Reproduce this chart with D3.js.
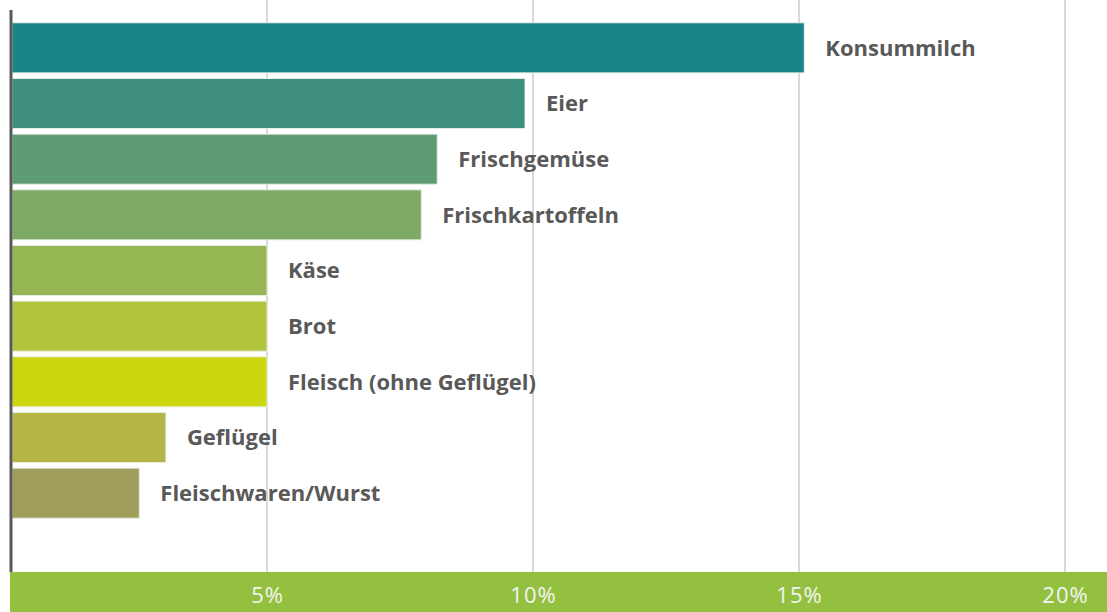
<!DOCTYPE html>
<meta charset="utf-8">
<script src="https://d3js.org/d3.v7.min.js"></script>
<style>
  body { margin: 0; background: #fff; }
  text { font-family: "Open Sans", Lato, sans-serif; }
</style>
<div id="viz"></div>
<script>
  // data
  const categories = ["Konsummilch", "Eier", "Frischgemüse", "Frischkartoffeln", "Käse", "Brot",
    "Fleisch (ohne Geflügel)", "Geflügel", "Fleischwaren/Wurst"];
  const values = [15.1, 9.85, 8.2, 7.9, 5.0, 5.0, 5.0, 3.1, 2.6];
  const barColors = ["#1b838a", "#3f8f7f", "#5f9b72", "#7fa966", "#96b553", "#b1c43b",
    "#cbd60f", "#b5b645", "#a19e5b"];
  const ticks = [5, 10, 15, 20];

  const width = 1107, height = 612;
  const axisLeft = 12, plotBottom = 572;

  const svg = d3.select("#viz").append("svg")
    .attr("width", width)
    .attr("height", height);

  const x = d3.scaleLinear().domain([0, 20]).range([1, 1065]);
  const y = d3.scaleBand()
    .domain(categories)
    .range([20, 521])
    .paddingInner(0.1)
    .paddingOuter(0.05);

  // gridlines
  svg.append("g")
    .selectAll("line")
    .data(ticks)
    .join("line")
      .attr("x1", d => x(d)).attr("x2", d => x(d))
      .attr("y1", 0).attr("y2", plotBottom)
      .attr("stroke", "#d9d9d9")
      .attr("stroke-width", 2);

  // bars
  svg.append("g")
    .selectAll("rect")
    .data(values)
    .join("rect")
      .attr("x", axisLeft)
      .attr("y", (d, i) => y(categories[i]))
      .attr("width", d => x(d) - axisLeft)
      .attr("height", y.bandwidth())
      .attr("fill", (d, i) => barColors[i])
      .attr("stroke", "#e8efe8")
      .attr("stroke-width", 1);

  // labels
  svg.append("g")
    .selectAll("text")
    .data(values)
    .join("text")
      .attr("x", d => x(d) + 21)
      .attr("y", (d, i) => y(categories[i]) + y.bandwidth() / 2)
      .attr("dy", "0.36em")
      .attr("fill", "#595959")
      .style("font-size", "22px")
      .style("font-weight", "bold")
      .text((d, i) => categories[i]);

  // y axis line
  svg.append("line")
    .attr("x1", 11).attr("x2", 11)
    .attr("y1", 10).attr("y2", plotBottom)
    .attr("stroke", "#595959")
    .attr("stroke-width", 3);

  // bottom band with x axis
  svg.append("rect")
    .attr("x", 10).attr("y", plotBottom)
    .attr("width", width - 10).attr("height", height - plotBottom)
    .attr("fill", "#93c13f");

  const xAxis = svg.append("g")
    .attr("transform", `translate(0,${plotBottom})`)
    .call(d3.axisBottom(x).tickValues(ticks).tickFormat(d => d + "%").tickSize(0).tickPadding(15));
  xAxis.select(".domain").remove();
  xAxis.selectAll("text")
    .attr("fill", "#f4f4f4")
    .style("font-size", "22px")
    .style("letter-spacing", "1px")
    .style("font-family", "'Open Sans', sans-serif");
</script>
